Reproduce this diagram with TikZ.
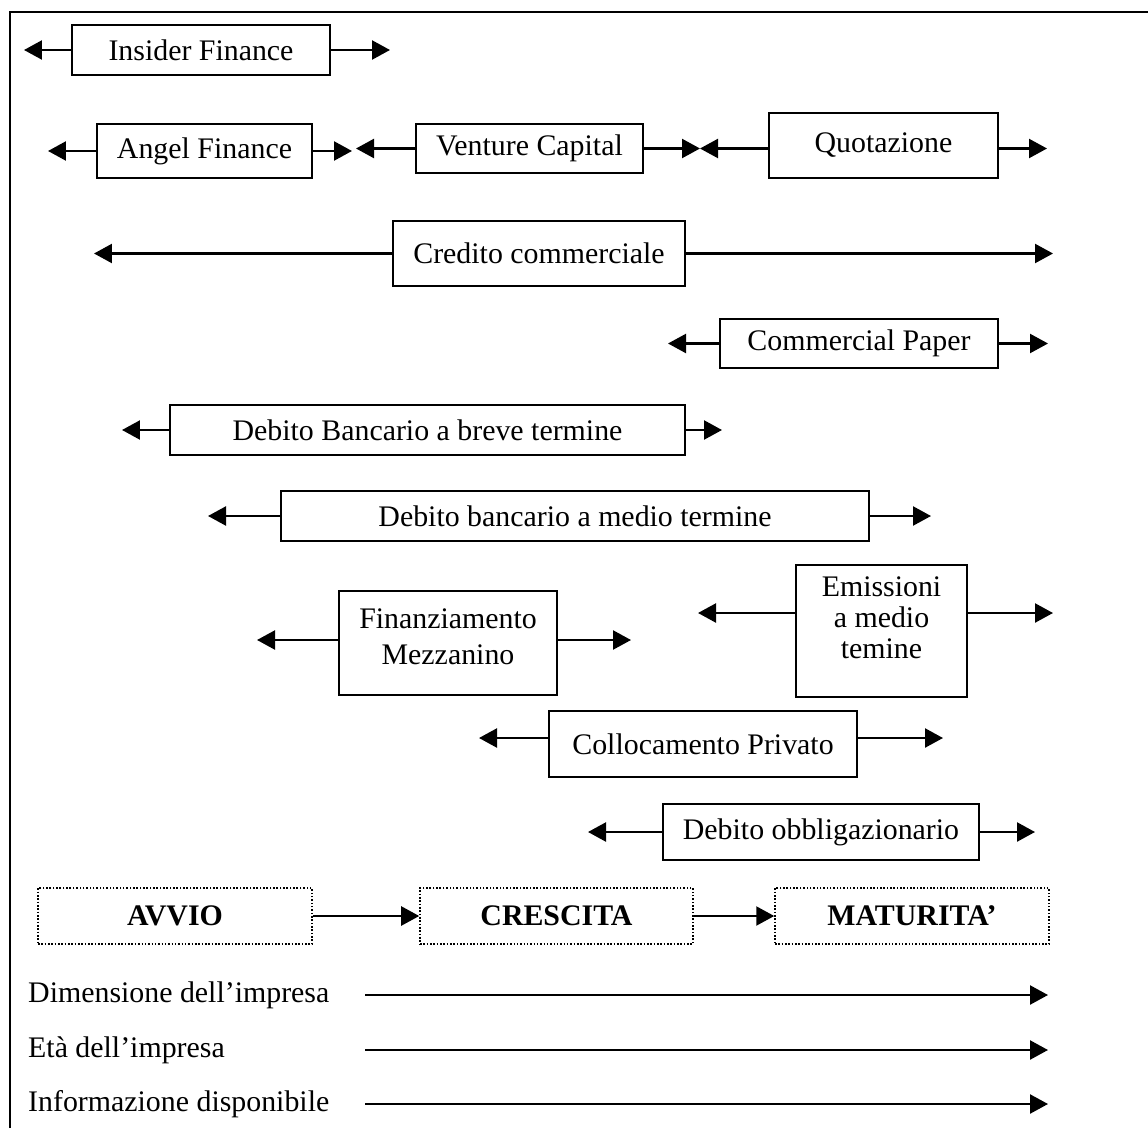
\documentclass[tikz,border=0pt]{standalone}
\usepackage{fontspec}
\setmainfont{Liberation Serif}
\usetikzlibrary{arrows.meta}

\tikzset{
  finbox/.style={draw, line width=1.3pt, inner sep=2pt, align=center},
  stagebox/.style={draw, densely dotted, line width=0.9pt, minimum width=5.48cm, minimum height=1.12cm, font=\fontsize{17}{20}\selectfont\bfseries},
  arr/.style={-{Triangle[length=0.36cm,width=0.38cm]}, line width=1.3pt},
}

\begin{document}
\begin{tikzpicture}[x=0.02cm, y=-0.02cm, font=\fontsize{17}{20}\selectfont]
 			\useasboundingbox (0,0) rectangle (1148,1128);
 			% Frame
 			\draw[line width=1.5pt] (10,1128) -- (10,12) -- (1148,12);
 			%% Financing sources
 			\node (insider) [finbox, minimum width=5.16cm, minimum height=1cm] at (201,50) {Insider Finance};
 			\node (angel) [finbox, minimum width=4.3cm, minimum height=1.08cm] at (204.5,151) {Angel Finance};
 			\node (venture) [finbox, minimum width=4.54cm, minimum height=0.98cm] at (529.5,148.5) {Venture Capital};
 			\node (quot) [finbox, minimum width=4.58cm, minimum height=1.3cm] at (883.5,145.5) {Quotazione};
 			\node (credito) [finbox, minimum width=5.84cm, minimum height=1.3cm] at (539,253.5) {Credito commerciale};
 			\node (paper) [finbox, minimum width=5.56cm, minimum height=0.98cm] at (859,343.5) {Commercial Paper};
 			\node (breve) [finbox, minimum width=10.3cm, minimum height=1cm] at (427.5,430) {Debito Bancario a breve termine};
 			\node (medio) [finbox, minimum width=11.76cm, minimum height=1cm] at (575,516) {Debito bancario a medio termine};
 			\node (mezz) [finbox, minimum width=4.36cm, minimum height=2.08cm] at (448,643) {};
 			\node (mezztext) [align=center, font=\fontsize{17}{20.5}\selectfont] at ([yshift=0.12cm]mezz.center) {Finanziamento\\Mezzanino};
 			\node (emis) [finbox, minimum width=3.42cm, minimum height=2.64cm] at (881.5,631) {};
 			\node (emistext) [anchor=north, align=center, font=\fontsize{17}{17.4}\selectfont] at ([yshift=-0.14cm]emis.north) {Emissioni\\a medio\\temine};
 			\node (colloc) [finbox, minimum width=6.16cm, minimum height=1.32cm] at (703,744) {Collocamento Privato};
 			\node (obblig) [finbox, minimum width=6.32cm, minimum height=1.12cm] at (821,832) {Debito obbligazionario};
 			%% Arrow ends
 			\coordinate (insiderL) at (24,50);
 			\coordinate (insiderR) at (390,50);
 			\coordinate (angelL) at (48,151);
 			\coordinate (angelR) at (352,151);
 			\coordinate (ventureL) at (356,148.5);
 			\coordinate (ventureR) at (700,148.5);
 			\coordinate (quotL) at (700,148.5);
 			\coordinate (quotR) at (1047,148.5);
 			\coordinate (creditoL) at (94,253.5);
 			\coordinate (creditoR) at (1053,253.5);
 			\coordinate (paperL) at (668,343.5);
 			\coordinate (paperR) at (1048,343.5);
 			\coordinate (breveL) at (122,430);
 			\coordinate (breveR) at (722,430);
 			\coordinate (medioL) at (208,516);
 			\coordinate (medioR) at (931,516);
 			\coordinate (mezzL) at (257,640);
 			\coordinate (mezzR) at (631,640);
 			\coordinate (emisL) at (698,613);
 			\coordinate (emisR) at (1053,613);
 			\coordinate (collocL) at (479,738);
 			\coordinate (collocR) at (943,738);
 			\coordinate (obbligL) at (588,832);
 			\coordinate (obbligR) at (1035,832);
 			%% Drawing Connecting Arrows
 			\draw[arr] (insider.west) -- (insiderL);
 			\draw[arr] (insider.east) -- (insiderR);
 			\draw[arr] (angel.west) -- (angelL);
 			\draw[arr] (angel.east) -- (angelR);
 			\draw[arr] (venture.west |- ventureL) -- (ventureL);
 			\draw[arr] (venture.east |- ventureR) -- (ventureR);
 			\draw[arr] (quot.west |- quotL) -- (quotL);
 			\draw[arr] (quot.east |- quotR) -- (quotR);
 			\draw[arr] (credito.west) -- (creditoL);
 			\draw[arr] (credito.east) -- (creditoR);
 			\draw[arr] (paper.west) -- (paperL);
 			\draw[arr] (paper.east) -- (paperR);
 			\draw[arr] (breve.west) -- (breveL);
 			\draw[arr] (breve.east) -- (breveR);
 			\draw[arr] (medio.west) -- (medioL);
 			\draw[arr] (medio.east) -- (medioR);
 			\draw[arr] (mezz.west |- mezzL) -- (mezzL);
 			\draw[arr] (mezz.east |- mezzR) -- (mezzR);
 			\draw[arr] (emis.west |- emisL) -- (emisL);
 			\draw[arr] (emis.east |- emisR) -- (emisR);
 			\draw[arr] (colloc.west |- collocL) -- (collocL);
 			\draw[arr] (colloc.east |- collocR) -- (collocR);
 			\draw[arr] (obblig.west |- obbligL) -- (obbligL);
 			\draw[arr] (obblig.east |- obbligR) -- (obbligR);
 			%% Stages
 			\node (avvio) [stagebox] at (175,916) {AVVIO};
 			\node (crescita) [stagebox, minimum width=5.46cm] at (556.5,916) {CRESCITA};
 			\node (maturita) [stagebox] at (912,916) {MATURITA’};
 			\draw[arr] (avvio.east) -- (crescita.west);
 			\draw[arr] (crescita.east) -- (maturita.west);
 			%% Firm features
 			\node (dim) [anchor=west] at (22,995) {Dimensione dell’impresa};
 			\node (eta) [anchor=west] at (22,1050) {Età dell’impresa};
 			\node (info) [anchor=west] at (22,1104) {Informazione disponibile};
 			\coordinate (dimS) at (365,995);
 			\coordinate (dimE) at (1048,995);
 			\coordinate (etaS) at (365,1050);
 			\coordinate (etaE) at (1048,1050);
 			\coordinate (infoS) at (365,1104);
 			\coordinate (infoE) at (1048,1104);
 			\draw[arr] (dimS) -- (dimE);
 			\draw[arr] (etaS) -- (etaE);
 			\draw[arr] (infoS) -- (infoE);
 		\end{tikzpicture}
\end{document}
